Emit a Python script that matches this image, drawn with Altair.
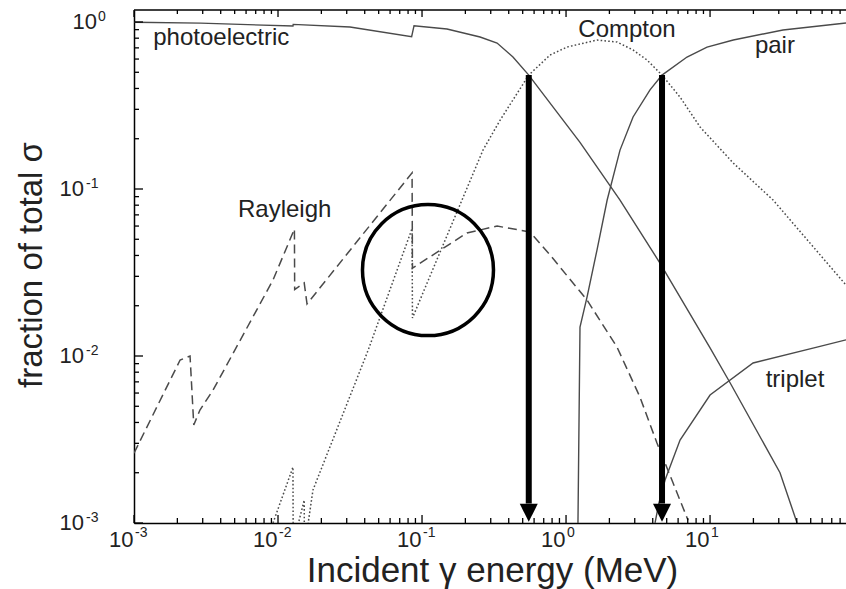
import altair as alt
import pandas as pd

W, H = 712, 513

# ---- data (energy in MeV, fraction of total cross section)
photo_x = [0.001, 0.0029, 0.0127, 0.01275, 0.0316, 0.0847, 0.088, 0.149, 0.253, 0.332, 0.428, 0.551, 1.25, 2.37, 4.49, 10.0, 13.8, 30.6, 40.2]
photo_y = [0.996, 0.984, 0.946, 0.968, 0.934, 0.816, 0.95, 0.908, 0.813, 0.748, 0.617, 0.481, 0.19, 0.0859, 0.036, 0.0112, 0.00689, 0.002, 0.001]

comp_x = [0.00923, 0.0127, 0.01275, 0.0152, 0.01525, 0.0175, 0.0422, 0.0853, 0.0858, 0.265, 0.348, 0.551, 0.774, 1.016, 1.64, 2.26, 2.92, 3.65, 4.64, 6.19, 8.53, 14.5, 27.4, 87.9]
comp_y = [0.001, 0.00216, 0.00075, 0.00137, 0.0007, 0.00158, 0.0108, 0.058, 0.0169, 0.171, 0.258, 0.481, 0.634, 0.708, 0.78, 0.759, 0.68, 0.592, 0.481, 0.355, 0.235, 0.143, 0.0859, 0.0266]

ray_x = [0.001, 0.00209, 0.00245, 0.0026, 0.00287, 0.00354, 0.00923, 0.0130, 0.01305, 0.0152, 0.0159, 0.0853, 0.0858, 0.205, 0.332, 0.562, 0.774, 1.40, 2.26, 3.26, 4.28, 5.53, 7.03]
ray_y = [0.00262, 0.00946, 0.0100, 0.00386, 0.00475, 0.00625, 0.0285, 0.0576, 0.0250, 0.0274, 0.0205, 0.125, 0.0336, 0.0545, 0.060, 0.0553, 0.0403, 0.0216, 0.0113, 0.00568, 0.00301, 0.00174, 0.00104]

pair_x = [1.21, 1.25, 1.40, 1.64, 1.93, 2.37, 2.92, 3.83, 4.64, 6.92, 9.53, 14.5, 32.1, 87.9]
pair_y = [0.001, 0.0149, 0.0226, 0.0431, 0.0859, 0.171, 0.270, 0.392, 0.481, 0.617, 0.708, 0.780, 0.896, 0.986]

trip_x = [4.15, 4.4, 4.87, 6.19, 10.0, 19.9, 55.3, 87.9]
trip_y = [0.001, 0.0013, 0.00181, 0.00314, 0.00584, 0.00908, 0.0113, 0.0125]

label_text = ["photoelectric", "Compton", "pair", "Rayleigh", "triplet"]
label_x = [0.00136, 2.65, 28.2, 0.00527, 38.9]
label_y = [0.728, 0.813, 0.652, 0.068, 0.00652]
label_align = ["left", "center", "center", "left", "center"]

arrow_x = [0.551, 4.64]
arrow_top = [0.481, 0.481]
arrow_shaft_end = [0.00131, 0.00131]
arrow_head = [0.00115, 0.00115]

circle_x = [0.110]
circle_y = [0.0327]

# axis tick values and their exponent labels
x_major = [0.001, 0.01, 0.1, 1, 10]
x_exp = ["-3", "-2", "-1", "0", "1"]
y_major = [0.001, 0.01, 0.1, 1]
y_exp = ["-3", "-2", "-1", "0"]
x_minor = [k * m for m in [0.001, 0.01, 0.1, 1, 10] for k in range(2, 10) if k * m <= 87.9]
y_minor = [k * m for m in [0.001, 0.01, 0.1] for k in range(2, 10)]

FONT = "Liberation Sans"
INK = "#222222"
LINE = "#4a4a4a"

xscale = alt.Scale(type="log", domain=[0.001, 87.9], nice=False)
yscale = alt.Scale(type="log", domain=[0.001, 1.18], nice=False)

x_axis = alt.Axis(values=x_major, labelExpr="'10'", ticks=False, tickSize=0, grid=False,
                  domainColor="black", domainWidth=1.5, labelFont=FONT, labelFontSize=22,
                  labelColor=INK, labelAlign="right", labelOffset=-1, labelPadding=6,
                  labelFlush=False, labelOverlap=False,
                  title="Incident γ energy (MeV)", titleFont=FONT, titleFontSize=35,
                  titleFontWeight="normal", titleColor=INK, titleX=W / 2 + 2, titleY=58,
                  titleBaseline="alphabetic", titleAlign="center")
y_axis = alt.Axis(values=y_major, labels=False, ticks=False, tickSize=0, grid=False,
                  domainColor="black", domainWidth=1.5,
                  title="fraction of total σ", titleFont=FONT, titleFontSize=33,
                  titleFontWeight="normal", titleColor=INK, titleAngle=270, titleX=-103,
                  titleY=H / 2 - 2, titleBaseline="middle", titleAlign="center")


def X(field):
    return alt.X(field, scale=xscale, axis=x_axis)


def Y(field):
    return alt.Y(field, scale=yscale, axis=y_axis)


def line_layer(xs, ys, dash=None, width=1.4):
    df = pd.DataFrame({"e": xs, "f": ys, "i": list(range(len(xs)))})
    kw = dict(color=LINE, strokeWidth=width, clip=True)
    if dash:
        kw["strokeDash"] = dash
    return alt.Chart(df).mark_line(**kw).encode(x=X("e:Q"), y=Y("f:Q"), order="i:Q")


photo = line_layer(photo_x, photo_y)
compton = line_layer(comp_x, comp_y, dash=[1.6, 2.2], width=1.5)
rayleigh = line_layer(ray_x, ray_y, dash=[9, 5], width=1.5)
pair = line_layer(pair_x, pair_y)
triplet = line_layer(trip_x, trip_y)


# inward ticks on bottom / top / left frame
def xticks(vals, length, top=False):
    df = pd.DataFrame({"v": vals})
    if top:
        yy, yy2 = alt.value(0), alt.value(length)
    else:
        yy, yy2 = alt.value(H), alt.value(H - length)
    return alt.Chart(df).mark_rule(color="black", strokeWidth=1.3).encode(x=X("v:Q"), y=yy, y2=yy2)


def yticks(vals, length):
    df = pd.DataFrame({"v": vals})
    return alt.Chart(df).mark_rule(color="black", strokeWidth=1.3).encode(
        y=Y("v:Q"), x=alt.value(0), x2=alt.value(length))


frame_top = alt.Chart(pd.DataFrame({"v": [1]})).mark_rule(color="black", strokeWidth=1.5).encode(
    x=alt.value(0), x2=alt.value(W), y=alt.value(0))

ticks = [xticks(x_major, 8), xticks(x_minor, 5), xticks(x_major, 7, top=True),
         xticks(x_minor, 4, top=True), yticks(y_major, 9), yticks(y_minor, 5)]

# superscript exponents of the x tick labels
xexp_df = pd.DataFrame({"v": x_major, "s": x_exp})
x_sup = alt.Chart(xexp_df).mark_text(font=FONT, fontSize=14, color=INK, align="left",
                                     baseline="alphabetic", dx=1).encode(
    x=X("v:Q"), y=alt.value(H + 14), text="s:N")

# y tick labels: "10" plus superscript exponent, right-aligned as a whole
yl_df = pd.DataFrame({"v": y_major, "s": y_exp})
y_neg = yl_df[yl_df.s != "0"]
y_zero = yl_df[yl_df.s == "0"]


def y_label_layers(df, ten_x, sup_x):
    ten = alt.Chart(df).mark_text(font=FONT, fontSize=22, color=INK, align="right",
                                  baseline="middle", text="10").encode(
        y=Y("v:Q"), x=alt.value(ten_x))
    sup = alt.Chart(df).mark_text(font=FONT, fontSize=14, color=INK, align="left",
                                  baseline="alphabetic", dy=-1).encode(
        y=Y("v:Q"), x=alt.value(sup_x), text="s:N")
    return [ten, sup]


y_labels = y_label_layers(y_neg, -50, -48) + y_label_layers(y_zero, -37, -36)

labels_df = pd.DataFrame({"e": label_x, "f": label_y, "t": label_text, "a": label_align})
labels_left = alt.Chart(labels_df[labels_df.a == "left"]).mark_text(
    font=FONT, fontSize=24, color=INK, align="left", baseline="alphabetic").encode(
    x=X("e:Q"), y=Y("f:Q"), text="t:N")
labels_center = alt.Chart(labels_df[labels_df.a == "center"]).mark_text(
    font=FONT, fontSize=24, color=INK, align="center", baseline="alphabetic").encode(
    x=X("e:Q"), y=Y("f:Q"), text="t:N")

arrows_df = pd.DataFrame({"e": arrow_x, "top": arrow_top, "end": arrow_shaft_end, "head": arrow_head})
shafts = alt.Chart(arrows_df).mark_rule(color="black", strokeWidth=6).encode(
    x=X("e:Q"), y=Y("top:Q"), y2="end:Q")
heads = alt.Chart(arrows_df).mark_point(shape="M-1,-1L1,-1L0,1Z", filled=True, color="black",
                                        size=324, opacity=1).encode(x=X("e:Q"), y=Y("head:Q"))

circle = alt.Chart(pd.DataFrame({"e": circle_x, "f": circle_y})).mark_point(
    shape="circle", filled=False, color="black", strokeWidth=3.5, size=17161, opacity=1).encode(
    x=X("e:Q"), y=Y("f:Q"))

chart = alt.layer(
    photo, compton, rayleigh, pair, triplet, frame_top, *ticks, x_sup, *y_labels,
    labels_left, labels_center, shafts, heads, circle,
).properties(
    width=W, height=H,
    autosize=alt.AutoSizeParams(type="none"),
    padding={"left": 134, "top": 10, "right": 0, "bottom": 66},
    background="white",
).configure_view(stroke=None)

chart.save("out.html", embed_options={"renderer": "svg", "actions": False})
